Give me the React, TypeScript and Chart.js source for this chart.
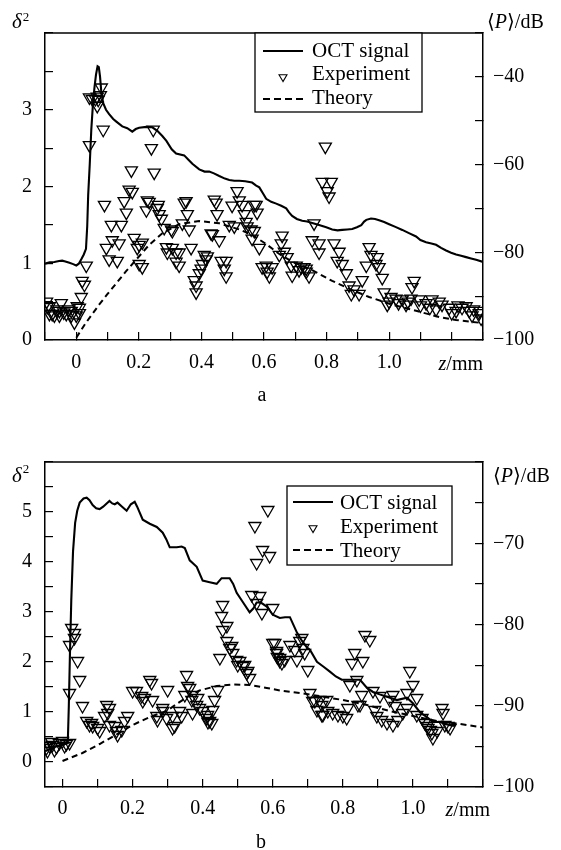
import React, { useEffect, useRef } from 'react';
import { Chart, registerables } from 'chart.js';

Chart.register(...registerables);

const SERIF = "'Liberation Serif', 'Times New Roman', Times, serif";

type Pt = [number, number];

// ---------------- Panel a ----------------
// OCT signal, z (mm) vs <P> (dB), right axis
const octA: Pt[] = [
  [-0.1, -82.6], [-0.085, -82.3], [-0.07, -82.2], [-0.055, -82.0], [-0.045, -81.9], [-0.035, -82.1],
  [-0.022, -82.4], [-0.01, -82.7], [0, -83.0], [0.008, -82.6], [0.016, -81.6], [0.024, -80.5],
  [0.031, -79.2], [0.035, -74], [0.038, -67], [0.043, -60], [0.048, -52], [0.053, -46.5],
  [0.058, -42.5], [0.063, -39.5], [0.068, -37.6], [0.072, -37.8], [0.076, -40], [0.08, -43.5],
  [0.086, -46], [0.095, -47.5], [0.105, -48.5], [0.118, -49.6], [0.128, -50.2], [0.147, -51.3],
  [0.163, -51.7], [0.179, -52.5], [0.19, -51.9], [0.201, -51.6], [0.224, -51.4], [0.243, -51.5],
  [0.259, -52.3], [0.275, -53.5], [0.288, -54.6], [0.305, -56.5], [0.319, -57.5], [0.345, -57.9],
  [0.36, -59.0], [0.371, -59.8], [0.393, -61.1], [0.41, -61.6], [0.425, -61.6], [0.44, -62.0],
  [0.457, -62.6], [0.475, -63.2], [0.489, -63.5], [0.505, -63.7], [0.521, -63.7], [0.54, -63.8],
  [0.562, -64.1], [0.575, -64.8], [0.585, -65.2], [0.596, -66.5], [0.607, -67.8], [0.623, -68.5],
  [0.639, -68.9], [0.655, -69.4], [0.671, -70.0], [0.68, -70.9], [0.69, -71.7], [0.705, -72.4],
  [0.722, -72.8], [0.738, -73.0], [0.754, -73.3], [0.776, -73.8], [0.799, -74.3], [0.818, -74.8],
  [0.835, -75.0], [0.85, -74.9], [0.866, -74.8], [0.882, -74.7], [0.897, -74.3], [0.911, -73.8],
  [0.92, -73.0], [0.927, -72.6], [0.942, -72.3], [0.955, -72.4], [0.968, -72.7], [0.984, -73.1],
  [1.0, -73.6], [1.02, -74.2], [1.042, -74.9], [1.065, -75.7], [1.086, -76.4], [1.1, -77.2],
  [1.118, -77.7], [1.135, -78.0], [1.15, -78.3], [1.166, -79.0], [1.182, -79.6], [1.198, -80.1],
  [1.214, -80.5], [1.23, -80.8], [1.246, -81.1], [1.262, -81.4], [1.278, -81.7], [1.3, -82.2],
];

// Theory, z vs delta^2, left axis
const theoryA: Pt[] = [
  [0, 0.03], [0.03, 0.22], [0.073, 0.46], [0.1, 0.6], [0.128, 0.74], [0.16, 0.9], [0.192, 1.05],
  [0.233, 1.24], [0.275, 1.39], [0.329, 1.51], [0.393, 1.55], [0.457, 1.52], [0.521, 1.44],
  [0.562, 1.37], [0.607, 1.25], [0.649, 1.12], [0.69, 1.02], [0.754, 0.91], [0.818, 0.77],
  [0.882, 0.65], [0.936, 0.56], [1.01, 0.46], [1.086, 0.38], [1.16, 0.3], [1.214, 0.26], [1.3, 0.22],
];

// Experiment, z vs delta^2, left axis
const expA: Pt[] = [
  [-0.095, 0.5], [-0.093, 0.43], [-0.086, 0.34], [-0.086, 0.44], [-0.077, 0.34], [-0.07, 0.32],
  [-0.062, 0.4], [-0.054, 0.38], [-0.054, 0.32], [-0.048, 0.48], [-0.04, 0.36], [-0.032, 0.34],
  [-0.024, 0.4], [-0.016, 0.38], [-0.016, 0.32], [-0.006, 0.23], [0.0, 0.32], [0.003, 0.44],
  [0.01, 0.42], [0.01, 0.35],
  [0.016, 0.56], [0.019, 0.77], [0.026, 0.72], [0.032, 0.97], [0.042, 2.54], [0.042, 3.16],
  [0.051, 3.14], [0.061, 3.14], [0.067, 3.17], [0.07, 3.13], [0.067, 3.05], [0.08, 3.29],
  [0.077, 3.19], [0.086, 2.74], [0.09, 1.76],
  [0.112, 1.5], [0.144, 1.5], [0.115, 1.3], [0.137, 1.26], [0.096, 1.2], [0.105, 1.05],
  [0.131, 1.03], [0.153, 1.81], [0.16, 1.66], [0.185, 1.33], [0.195, 1.2], [0.201, 0.99],
  [0.211, 0.95], [0.176, 2.21], [0.169, 1.96], [0.179, 1.93],
  [0.246, 2.74], [0.24, 2.5], [0.249, 2.18], [0.233, 1.8], [0.262, 1.76], [0.351, 1.81],
  [0.345, 1.79], [0.227, 1.82], [0.224, 1.69], [0.259, 1.72], [0.265, 1.64], [0.272, 1.58],
  [0.281, 1.46], [0.304, 1.44], [0.307, 1.42], [0.339, 1.52], [0.361, 1.44], [0.355, 1.64],
  [0.211, 1.27], [0.201, 1.24], [0.288, 1.21], [0.307, 1.2], [0.291, 1.14], [0.319, 1.14],
  [0.329, 1.14], [0.319, 1.02], [0.329, 0.97], [0.367, 1.2], [0.377, 0.78], [0.383, 0.71],
  [0.383, 0.62], [0.393, 0.87], [0.399, 0.93], [0.403, 0.99],
  [0.441, 1.83], [0.514, 1.94], [0.521, 1.82], [0.498, 1.75], [0.53, 1.76], [0.575, 1.76],
  [0.447, 1.79], [0.45, 1.64], [0.537, 1.64], [0.543, 1.54], [0.569, 1.76], [0.578, 1.66],
  [0.489, 1.5], [0.505, 1.48], [0.546, 1.48], [0.559, 1.44], [0.569, 1.42], [0.562, 1.32],
  [0.585, 1.2], [0.431, 1.39], [0.457, 1.3], [0.409, 1.11], [0.419, 1.09], [0.415, 1.05],
  [0.463, 1.03], [0.479, 1.03], [0.473, 0.93], [0.479, 0.83], [0.435, 1.38],
  [0.594, 0.95], [0.61, 0.89], [0.617, 0.83], [0.607, 0.97], [0.626, 0.95], [0.658, 1.36],
  [0.655, 1.26], [0.665, 1.15], [0.649, 1.11], [0.674, 1.08], [0.687, 0.97], [0.703, 0.97],
  [0.719, 0.95], [0.735, 0.93], [0.744, 0.83], [0.69, 0.84], [0.712, 0.91], [0.728, 0.95],
  [0.735, 0.89], [0.76, 1.52], [0.754, 1.3], [0.776, 1.26], [0.776, 1.14], [0.796, 2.52],
  [0.786, 2.06], [0.815, 2.06], [0.802, 1.94], [0.808, 1.87],
  [0.824, 1.26], [0.84, 1.15], [0.834, 1.03], [0.85, 0.99], [0.863, 0.87], [0.872, 0.71],
  [0.888, 0.66], [0.904, 0.6], [0.914, 0.78], [0.879, 0.6], [0.936, 1.21], [0.942, 1.11],
  [0.927, 0.97], [0.962, 1.08], [0.968, 0.95], [0.978, 0.81], [0.958, 0.99], [0.984, 0.62],
  [0.994, 0.46], [1.006, 0.56], [1.08, 0.77], [1.073, 0.69], [1.07, 0.54], [1.022, 0.54],
  [1.042, 0.53], [1.054, 0.46], [1.096, 0.53], [1.118, 0.48], [1.137, 0.53], [1.15, 0.4],
  [1.169, 0.46], [1.192, 0.42], [1.214, 0.38], [1.233, 0.42], [1.246, 0.44], [1.256, 0.38],
  [1.265, 0.32], [1.288, 0.35], [1.294, 0.28], [1.03, 0.48], [1.1, 0.45], [1.13, 0.42],
  [1.16, 0.5], [1.2, 0.35], [1.22, 0.45], [1.27, 0.4], [1.29, 0.38], [1.0, 0.5], [1.06, 0.5],
];

// ---------------- Panel b ----------------
const octB: Pt[] = [
  [-0.05, -95.6], [-0.035, -95.3], [-0.02, -95.0], [0.0, -94.8], [0.015, -94.6], [0.018, -90],
  [0.021, -84], [0.025, -77], [0.03, -71], [0.036, -67.5], [0.042, -66], [0.049, -65.0],
  [0.06, -64.5], [0.069, -64.4], [0.077, -64.7], [0.086, -65.3], [0.096, -65.7], [0.106, -65.8],
  [0.116, -65.5], [0.126, -65.1], [0.134, -64.8], [0.142, -65.1], [0.149, -65.2], [0.157, -65.0],
  [0.17, -65.5], [0.183, -66.0], [0.195, -65.2], [0.206, -64.9], [0.213, -65.5], [0.22, -66.2],
  [0.229, -67.1], [0.249, -67.6], [0.269, -68.0], [0.286, -68.7], [0.296, -69.5], [0.306, -70.5],
  [0.326, -70.5], [0.34, -70.4], [0.349, -70.6], [0.363, -72.1], [0.383, -72.9], [0.4, -74.6],
  [0.42, -74.8], [0.44, -75.0], [0.454, -74.3], [0.477, -74.3], [0.487, -75.0], [0.497, -76.1],
  [0.514, -77.2], [0.534, -78.5], [0.545, -78.0], [0.554, -77.3], [0.566, -77.3], [0.583, -77.8],
  [0.6, -78.8], [0.62, -79.2], [0.635, -79.1], [0.649, -79.1], [0.669, -81.0], [0.683, -82.0],
  [0.697, -82.8], [0.706, -83.1], [0.726, -84.6], [0.745, -85.2], [0.763, -85.8], [0.78, -86.4],
  [0.797, -86.8], [0.82, -86.8], [0.849, -86.8], [0.869, -87.8], [0.886, -88.3], [0.905, -88.6],
  [0.926, -88.9], [0.954, -89.3], [0.983, -89.0], [1.0, -89.7], [1.02, -90.8], [1.04, -91.4],
  [1.057, -92.0], [1.077, -92.0], [1.106, -92.4], [1.12, -92.5],
];

const theoryB: Pt[] = [
  [0.0, 0.02], [0.057, 0.18], [0.106, 0.36], [0.154, 0.55], [0.2, 0.74], [0.249, 0.9],
  [0.297, 1.02], [0.33, 1.18], [0.36, 1.32], [0.391, 1.43], [0.44, 1.52], [0.486, 1.55],
  [0.534, 1.54], [0.583, 1.48], [0.629, 1.42], [0.677, 1.38], [0.714, 1.34], [0.8, 1.24],
  [0.869, 1.14], [0.934, 1.02], [1.0, 0.92], [1.069, 0.82], [1.134, 0.76], [1.2, 0.69],
];

const expB: Pt[] = [
  [-0.046, 0.28], [-0.037, 0.32], [-0.029, 0.34], [-0.017, 0.3], [-0.009, 0.38], [0.0, 0.42],
  [0.011, 0.36], [0.02, 0.38], [-0.043, 0.22], [-0.023, 0.24], [-0.031, 0.4], [0.006, 0.32],
  [0.02, 1.38], [0.02, 2.34], [0.034, 2.48], [0.034, 2.58], [0.026, 2.68], [0.043, 2.02],
  [0.049, 1.64], [0.057, 1.12], [0.069, 0.82], [0.077, 0.74], [0.086, 0.72], [0.083, 0.78],
  [0.1, 0.68], [0.106, 0.62],
  [0.126, 1.14], [0.134, 1.08], [0.12, 0.92], [0.129, 0.98], [0.134, 0.74], [0.149, 0.72],
  [0.154, 0.62], [0.157, 0.54], [0.169, 0.64], [0.177, 0.82], [0.186, 0.92], [0.2, 1.42],
  [0.211, 1.42], [0.226, 1.32], [0.229, 1.22], [0.249, 1.64], [0.254, 1.58], [0.257, 1.24],
  [0.269, 0.92], [0.271, 0.84], [0.286, 1.02], [0.297, 0.88], [0.3, 1.44], [0.234, 1.28],
  [0.286, 1.08],
  [0.314, 0.92], [0.32, 0.72], [0.334, 1.02], [0.34, 0.92], [0.354, 1.74], [0.349, 1.34],
  [0.363, 1.48], [0.369, 1.24], [0.371, 0.98], [0.383, 1.14], [0.391, 1.08], [0.4, 1.02],
  [0.411, 0.88], [0.42, 0.82], [0.429, 1.04], [0.434, 1.24], [0.443, 1.44], [0.314, 0.68],
  [0.357, 1.52], [0.371, 1.34], [0.386, 1.28], [0.414, 0.94], [0.426, 0.78], [0.415, 0.8],
  [0.449, 2.08], [0.457, 2.64], [0.469, 2.42], [0.477, 2.28], [0.486, 2.18], [0.497, 2.04],
  [0.5, 1.94], [0.514, 1.92], [0.526, 1.78], [0.534, 1.68], [0.457, 3.14], [0.454, 2.92],
  [0.469, 2.72], [0.483, 2.32], [0.506, 2.02], [0.52, 1.94], [0.529, 1.82],
  [0.586, 5.04], [0.549, 4.72], [0.571, 4.24], [0.591, 4.12], [0.554, 3.98], [0.54, 3.34],
  [0.563, 3.32], [0.569, 2.98], [0.554, 3.18], [0.6, 3.08],
  [0.6, 2.38], [0.611, 2.22], [0.62, 2.08], [0.606, 2.38], [0.611, 2.18], [0.62, 2.02],
  [0.634, 2.04], [0.649, 2.34], [0.663, 2.24], [0.677, 2.42], [0.686, 2.28], [0.691, 2.18],
  [0.7, 1.84], [0.669, 2.04], [0.683, 2.48], [0.613, 2.1], [0.626, 1.98],
  [0.706, 1.38], [0.72, 1.22], [0.74, 1.14], [0.74, 0.94], [0.754, 1.24], [0.714, 1.22],
  [0.726, 1.04], [0.734, 1.24], [0.743, 0.94], [0.757, 1.02], [0.771, 0.98], [0.786, 0.94],
  [0.8, 0.92], [0.811, 0.88], [0.814, 1.08],
  [0.863, 2.54], [0.877, 2.44], [0.834, 2.18], [0.826, 1.98], [0.857, 2.02], [0.82, 1.54],
  [0.84, 1.64], [0.854, 1.34], [0.843, 1.14], [0.886, 1.42], [0.906, 1.32], [0.934, 1.24],
  [0.943, 1.34], [0.949, 1.12], [0.983, 1.38], [0.991, 1.82], [1.0, 1.54], [1.011, 1.28],
  [0.849, 1.14], [0.891, 1.04], [0.897, 0.92], [0.911, 0.84], [0.926, 0.78], [0.943, 0.74],
  [0.957, 0.84], [0.971, 0.98], [0.983, 1.08],
  [1.011, 0.94], [1.026, 0.88], [1.034, 0.78], [1.043, 0.68], [1.054, 0.58], [1.057, 0.48],
  [1.069, 0.62], [1.083, 1.08], [1.086, 0.98], [1.091, 0.74], [1.1, 0.72], [1.106, 0.68],
  [1.04, 0.72], [1.05, 0.64],
];

// Tick values that carry labels
const xLabelled = [0, 0.2, 0.4, 0.6, 0.8, 1.0];
const yLabelledA = [0, 1, 2, 3];
const yRLabelledA = [-40, -60, -80, -100];
const yLabelledB = [0, 1, 2, 3, 4, 5];
const yRLabelledB = [-70, -80, -90, -100];

const legendLabels = ['OCT signal', 'Experiment', 'Theory'];

interface Spec {
  canvasH: number;
  padTop: number;
  xAxisH: number;
  xMin: number; xMax: number;
  yMin: number; yMax: number; yStep: number; yLab: number[];
  rMin: number; rMax: number; rStep: number; rLab: number[];
  xPad: number;
  oct: Pt[]; theory: Pt[]; exp: Pt[];
  legend: { x: number; y: number; w: number; h: number; lineX0: number; lineX1: number; textX: number; rows: number[]; base: number[] };
  caption: string; capX: number; capBase: number;
  dX: number; dBase: number; supBase: number;
  pX: number; pBase: number;
  zRight: number; zBase: number;
}

const panelA: Spec = {
  canvasH: 415, padTop: 14, xAxisH: 75,
  xMin: -0.1, xMax: 1.3,
  yMin: 0, yMax: 4, yStep: 0.5, yLab: yLabelledA,
  rMin: -100, rMax: -30, rStep: 10, rLab: yRLabelledA,
  xPad: 19,
  oct: octA, theory: theoryA, exp: expA,
  legend: { x: 255, y: 33, w: 167, h: 79, lineX0: 263, lineX1: 303, textX: 312, rows: [51, 77, 99], base: [57, 80, 104] },
  caption: 'a', capX: 262, capBase: 401,
  dX: 12, dBase: 28, supBase: 21,
  pX: 487, pBase: 28,
  zRight: 483, zBase: 370,
};

const panelB: Spec = {
  canvasH: 435, padTop: 47, xAxisH: 63,
  xMin: -0.05, xMax: 1.2,
  yMin: -0.5, yMax: 6, yStep: 0.5, yLab: yLabelledB,
  rMin: -100, rMax: -60, rStep: 5, rLab: yRLabelledB,
  xPad: 18,
  oct: octB, theory: theoryB, exp: expB,
  legend: { x: 287, y: 71, w: 165, h: 79, lineX0: 293, lineX1: 333, textX: 340, rows: [87, 113, 135], base: [94, 118, 142] },
  caption: 'b', capX: 261, capBase: 433,
  dX: 12, dBase: 67, supBase: 58,
  pX: 493, pBase: 67,
  zRight: 490, zBase: 401,
};

const inList = (v: number, list: number[]) => list.some((t) => Math.abs(t - v) < 1e-6);
const minus = (v: number) => (v < 0 ? '\u2212' + Math.abs(v) : String(v));
const toXY = (arr: Pt[]) => arr.map(([x, y]) => ({ x, y }));

function drawRuns(ctx: CanvasRenderingContext2D, x: number, y: number, runs: { t: string; f: string; dy?: number }[], align: 'left' | 'right') {
  let total = 0;
  for (const r of runs) { ctx.font = r.f; total += ctx.measureText(r.t).width; }
  let cx = align === 'right' ? x - total : x;
  ctx.textAlign = 'left';
  ctx.textBaseline = 'alphabetic';
  for (const r of runs) {
    ctx.font = r.f;
    ctx.fillText(r.t, cx, y + (r.dy || 0));
    cx += ctx.measureText(r.t).width;
  }
}

function decorPlugin(spec: Spec) {
  return {
    id: 'decor',
    afterDraw(chart: any) {
      const { ctx, chartArea: ca } = chart;
      ctx.save();
      ctx.fillStyle = '#000';
      ctx.strokeStyle = '#000';
      // top edge of the frame
      ctx.lineWidth = 1.5;
      ctx.beginPath();
      ctx.moveTo(ca.left, ca.top);
      ctx.lineTo(ca.right, ca.top);
      ctx.stroke();

      // delta^2
      ctx.font = `italic 21px ${SERIF}`;
      ctx.textAlign = 'left';
      ctx.textBaseline = 'alphabetic';
      ctx.fillText('\u03b4', spec.dX, spec.dBase);
      const dw = ctx.measureText('\u03b4').width;
      ctx.font = `13px ${SERIF}`;
      ctx.fillText('2', spec.dX + dw + 1, spec.supBase);

      // <P>/dB
      drawRuns(ctx, spec.pX, spec.pBase, [
        { t: '\u27e8', f: `20px ${SERIF}, 'DejaVu Serif'` },
        { t: 'P', f: `italic 20px ${SERIF}` },
        { t: '\u27e9', f: `20px ${SERIF}, 'DejaVu Serif'` },
        { t: '/dB', f: `20px ${SERIF}` },
      ], 'left');

      // z/mm
      drawRuns(ctx, spec.zRight, spec.zBase, [
        { t: 'z', f: `italic 20px ${SERIF}` },
        { t: '/mm', f: `20px ${SERIF}` },
      ], 'right');

      // caption
      ctx.font = `20px ${SERIF}`;
      ctx.textAlign = 'center';
      ctx.fillText(spec.caption, spec.capX, spec.capBase);

      // legend
      const L = spec.legend;
      ctx.fillStyle = '#fff';
      ctx.fillRect(L.x, L.y, L.w, L.h);
      ctx.lineWidth = 1.3;
      ctx.strokeRect(L.x, L.y, L.w, L.h);
      ctx.fillStyle = '#000';
      // solid line sample
      ctx.lineWidth = 2;
      ctx.beginPath();
      ctx.moveTo(L.lineX0, L.rows[0]);
      ctx.lineTo(L.lineX1, L.rows[0]);
      ctx.stroke();
      // triangle sample
      const cx = (L.lineX0 + L.lineX1) / 2;
      const r = 4.6;
      ctx.lineWidth = 1.1;
      ctx.beginPath();
      ctx.moveTo(cx, L.rows[1] + r);
      ctx.lineTo(cx - r * 0.866, L.rows[1] - r / 2);
      ctx.lineTo(cx + r * 0.866, L.rows[1] - r / 2);
      ctx.closePath();
      ctx.stroke();
      // dashed sample
      ctx.lineWidth = 2;
      ctx.setLineDash([7, 4]);
      ctx.beginPath();
      ctx.moveTo(L.lineX0, L.rows[2]);
      ctx.lineTo(L.lineX1, L.rows[2]);
      ctx.stroke();
      ctx.setLineDash([]);
      ctx.font = `21px ${SERIF}`;
      ctx.textAlign = 'left';
      legendLabels.forEach((t, i) => ctx.fillText(t, L.textX, L.base[i]));
      ctx.restore();
    },
  };
}

function buildConfig(spec: Spec): any {
  const grid = { drawOnChartArea: false, drawTicks: true, tickLength: -8, color: '#000', lineWidth: 1.2 };
  const border = { display: true, color: '#000', width: 1.5 };
  const font = { family: SERIF, size: 20 };
  return {
    type: 'scatter',
    data: {
      datasets: [
        {
          type: 'line', label: legendLabels[0], data: toXY(spec.oct), yAxisID: 'yR',
          borderColor: '#000', borderWidth: 2.1, pointRadius: 0, tension: 0, fill: false,
        },
        {
          type: 'scatter', label: legendLabels[1], data: toXY(spec.exp), yAxisID: 'y',
          pointStyle: 'triangle', rotation: 180, pointRadius: 7, borderWidth: 1.3,
          borderColor: '#000', backgroundColor: 'rgba(0,0,0,0)',
        },
        {
          type: 'line', label: legendLabels[2], data: toXY(spec.theory), yAxisID: 'y',
          borderColor: '#000', borderWidth: 2, borderDash: [6, 4], pointRadius: 0, tension: 0, fill: false,
        },
      ],
    },
    options: {
      responsive: false,
      maintainAspectRatio: false,
      animation: false,
      devicePixelRatio: 1,
      events: [],
      layout: { padding: { top: spec.padTop, left: 0, right: 0, bottom: 0 } },
      plugins: { legend: { display: false }, tooltip: { enabled: false } },
      scales: {
        x: {
          type: 'linear', position: 'bottom', min: spec.xMin, max: spec.xMax,
          afterFit: (s: any) => { s.height = spec.xAxisH; },
          ticks: {
            stepSize: 0.1, autoSkip: false, includeBounds: false, maxRotation: 0, minRotation: 0, padding: spec.xPad,
            font, color: '#000',
            callback: (v: number) => {
              const r = Math.round(v * 100) / 100;
              if (!inList(r, xLabelled)) return '';
              return r === 0 ? '0' : r.toFixed(1);
            },
          },
          grid, border,
        },
        y: {
          type: 'linear', position: 'left', min: spec.yMin, max: spec.yMax,
          afterFit: (s: any) => { s.width = 45; },
          ticks: {
            stepSize: spec.yStep, autoSkip: false, padding: 21, font, color: '#000',
            callback: (v: number) => (inList(v, spec.yLab) ? String(v) : ''),
          },
          grid, border,
        },
        yR: {
          type: 'linear', position: 'right', min: spec.rMin, max: spec.rMax,
          afterFit: (s: any) => { s.width = 78; },
          ticks: {
            stepSize: spec.rStep, autoSkip: false, padding: 18, font, color: '#000',
            callback: (v: number) => (inList(v, spec.rLab) ? minus(v) : ''),
          },
          grid, border,
        },
      },
    },
    plugins: [decorPlugin(spec)],
  };
}

function Panel({ spec, top }: { spec: Spec; top: number }) {
  const ref = useRef<HTMLCanvasElement>(null);
  useEffect(() => {
    const chart = new Chart(ref.current as HTMLCanvasElement, buildConfig(spec));
    return () => chart.destroy();
  }, [spec]);
  return (
    <canvas
      ref={ref}
      width={561}
      height={spec.canvasH}
      style={{ position: 'absolute', left: 0, top, width: 561, height: spec.canvasH, display: 'block' }}
    />
  );
}

export default function App() {
  return (
    <div style={{ position: 'absolute', left: 0, top: 0, width: 561, height: 850, background: '#fff' }}>
      <Panel spec={panelA} top={0} />
      <Panel spec={panelB} top={415} />
    </div>
  );
}
